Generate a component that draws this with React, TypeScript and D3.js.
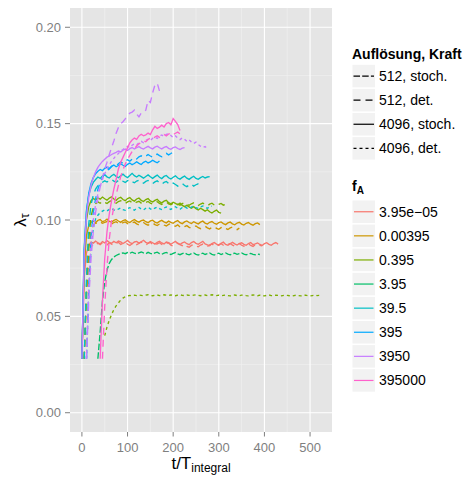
import React from "react";
import * as d3 from "d3";

// time step between consecutive samples (t / T_integral)
const STEP = 5;

const xTicks = [0, 100, 200, 300, 400, 500];
const xMinor = [50, 150, 250, 350, 450];
const yTicks = [0, 0.05, 0.1, 0.15, 0.2];
const yMinor = [0.025, 0.075, 0.125, 0.175];

const faLevels = ["3.95e\u221205", "0.00395", "0.395", "3.95", "39.5", "395", "3950", "395000"];
const faColors = ["#F8766D", "#CD9600", "#7CAE00", "#00BE67", "#00BFC4", "#00A9FF", "#C77CFF", "#FF61CC"];
const typeLevels = ["512, stoch.", "512, det.", "4096, stoch.", "4096, det."];
const typeDash: (string | null)[] = ["6.5,2.2", "7,5", null, "3,3"];

// lambda_tau values in units of 1e-3, sampled every STEP starting at t0
const salmon4096Stoch = [
  28, 70, 83, 87, 88.5, 88, 89, 88.2, 87.6, 88.8,
  88.1, 89.3, 88.4, 87.9, 88.9, 88.2, 89.1, 88.6, 87.8, 88.5,
  89.4, 88.3, 87.7, 88.6, 88.9, 88.0, 88.7, 89.5, 88.4, 87.9,
  88.8, 88.2, 87.5, 88.4, 89.0, 88.1, 87.6, 88.6, 88.3, 87.4,
  88.2, 88.9, 87.8, 87.3, 88.1, 88.6, 87.7, 87.2, 88.3, 88.8,
  87.9, 87.4, 88.2, 88.9, 87.6, 87.1, 86.6, 87.8, 88.3, 87.5,
  86.8, 87.9, 88.5, 87.3, 86.9, 87.7, 88.4, 87.6, 87.0, 87.8,
  88.2, 87.4, 86.9, 87.8, 88.3, 87.2, 87.6, 88.1, 87.3, 86.8,
  87.7, 88.2, 87.4, 86.9, 87.8, 88.3, 87.5,
];
const salmon512Det = [
  28, 62, 80, 86, 87.5, 87, 88, 87.2, 88.3, 87.6,
  87.1, 88.2, 87.5, 86.9, 87.8, 88.4, 87.3, 87.9, 88.5, 87.4,
  86.8, 87.7, 88.3, 87.2, 87.8, 88.6, 87.5, 87.0, 87.9, 88.4,
  87.3, 86.8, 87.6, 88.2, 87.4, 86.9, 87.8, 88.1, 87.0, 86.5,
  87.4, 88.0, 87.2, 86.7, 87.5, 86.3, 85.9, 86.8, 87.4, 86.6,
  86.1, 87.0, 87.5, 86.7, 86.2, 87.1, 87.6, 86.8, 86.3, 87.2,
  87.7, 86.9, 86.4, 87.3, 87.8, 87.0, 86.5, 87.3, 87.8, 86.9,
  86.4, 87.2, 87.6, 86.8, 86.3, 87.1, 87.5, 86.9, 86.6,
];
const orange4096Stoch = [
  28, 76, 92, 97, 98.8, 99.5, 98.7, 99.8, 100.2, 99.1,
  99.6, 100.4, 99.3, 98.9, 99.8, 100.3, 99.5, 98.8, 99.7, 100.1,
  99.2, 98.7, 99.6, 100.2, 99.4, 98.9, 99.7, 100.0, 99.1, 98.6,
  99.5, 99.9, 98.9, 98.4, 99.3, 99.8, 99.0, 98.5, 99.4, 98.8,
  98.3, 99.2, 99.7, 98.6, 98.1, 99.0, 99.5, 98.7, 98.2, 99.1,
  98.5, 98.0, 98.9, 99.4, 98.4, 97.9, 98.8, 99.2, 98.3, 97.8,
  98.6, 99.0, 98.1, 97.6, 98.5, 98.9, 98.0, 97.5, 98.4, 98.8,
  97.9, 97.4, 98.3, 98.7, 97.8, 97.3, 98.1, 98.5, 97.6,
];
const orange512Det = [
  28, 60, 85, 94, 97.5, 98.5, 98.0, 99.0, 98.3, 98.8,
  99.2, 98.4, 97.9, 98.7, 99.1, 98.2, 97.8, 98.6, 99.0, 98.1,
  97.7, 98.5, 98.9, 98.0, 97.5, 98.3, 98.7, 97.8, 97.3, 98.1,
  98.5, 97.6, 97.1, 97.9, 98.3, 97.4, 96.9, 97.7, 98.1, 97.2,
  96.7, 97.5, 96.4, 95.9, 96.6, 97.1, 96.2, 95.7, 96.4, 96.9,
  96.0, 95.5, 96.3, 96.8, 95.9, 95.4, 96.2, 96.6, 95.7, 95.2,
  96.0, 96.5, 95.6, 95.1, 95.9, 96.3, 95.5, 95.0, 95.8,
];
const olive4096Stoch = [
  28, 80, 100, 107, 110, 111.2, 110.4, 111.5, 110.8, 111.9,
  111.0, 110.3, 111.4, 112.0, 110.9, 110.2, 111.3, 111.8, 110.6, 110.0,
  111.1, 111.6, 110.4, 109.8, 110.9, 111.4, 110.2, 109.6, 110.6, 111.1,
  109.9, 109.3, 110.2, 110.7, 109.5, 108.9, 109.8, 110.2, 109.0, 108.4,
  109.2, 108.6, 107.9, 108.7, 107.6, 106.9, 107.6, 106.8, 106.1, 106.9,
  105.9, 105.2, 106.1, 105.4, 104.6, 105.3, 104.3, 103.6, 104.5, 105.2,
  104.0, 103.6,
];
const olive512Det = [
  28, 65, 90, 102, 106.5, 108.5, 109.4, 108.7, 109.8, 109.1,
  108.6, 109.5, 110.1, 109.2, 108.7, 109.6, 110.0, 109.0, 108.5, 109.4,
  109.9, 108.9, 108.4, 109.3, 109.7, 108.8, 108.3, 109.1, 109.6, 108.7,
  108.2, 109.0, 109.5, 108.6, 108.1, 108.9, 109.3, 108.4, 107.9, 108.7,
  109.1, 108.2, 107.7, 108.5, 109.0, 108.1, 107.6, 108.4, 108.9, 108.0,
  107.5, 108.3, 108.8, 107.9, 107.4, 108.2, 108.7, 107.8, 107.3, 108.1,
  108.6, 107.7, 108.2,
];
const olive4096Det = [
  40.0, 44.5, 48.0, 51.0, 53.5, 55.5, 57.0, 58.5, 59.5, 60.2,
  60.6, 60.9, 60.7, 61.0, 60.8, 61.1, 60.9, 60.7, 61.0, 61.2,
  60.9, 60.7, 61.0, 61.1, 60.8, 60.9, 61.2, 61.0, 60.8, 61.1,
  60.9, 60.7, 61.0, 61.2, 60.9, 60.8, 61.1, 60.9, 60.7, 61.0,
  61.2, 60.9, 60.7, 61.0, 61.1, 60.8, 60.9, 61.2, 61.0, 60.8,
  61.0, 60.7, 60.9, 61.1, 60.8, 60.6, 60.9, 61.1, 60.8, 60.7,
  61.0, 61.1, 60.8, 60.6, 60.9, 61.1, 60.9, 60.7, 61.0, 60.8,
  60.6, 60.9, 61.1, 60.8, 60.7, 61.0, 60.9, 60.6, 60.8, 61.0,
  60.9, 60.7, 60.5, 60.8, 61.0, 60.8, 60.6, 60.9, 61.0, 60.7,
  60.6, 60.8, 61.0, 60.8, 60.9,
];
const green512Stoch = [
  28, 42, 58, 68, 74, 77.5, 79.5, 80.8, 81.6, 82.2,
  82.6, 82.9, 82.5, 83.1, 82.7, 83.3, 82.8, 82.4, 83.0, 83.4,
  82.9, 82.5, 83.2, 82.7, 82.3, 82.9, 83.3, 82.6, 82.2, 82.8,
  83.2, 82.5, 82.1, 82.7, 83.1, 82.4, 82.0, 82.6, 83.0, 82.3,
  81.9, 82.5, 82.9, 82.2, 81.8, 82.4, 82.8, 82.1, 82.5, 82.9,
  82.2, 81.8, 82.4, 82.8, 82.1, 82.6, 82.9, 82.3, 81.9, 82.5,
  82.8, 82.2, 82.6, 82.9, 82.3, 81.9, 82.4, 82.7, 82.2, 82.0,
  82.3, 82.1,
];
const teal4096Stoch = [
  28, 85, 105, 113, 117, 119.5, 121, 122.3, 121.6, 122.8,
  123.5, 122.4, 121.8, 123.0, 123.7, 122.6, 121.9, 122.9, 123.8, 122.7,
  122.0, 123.1, 124.2, 123.0, 122.3, 123.2, 122.5, 121.7, 122.6, 123.4,
  122.4, 121.6, 122.5, 123.3, 122.2, 121.5, 122.6, 123.1, 121.9, 121.3,
  122.2, 122.9, 121.8, 121.2, 122.1, 122.8, 121.7, 121.1, 122.0, 122.7,
  121.6, 121.1, 122.0, 122.6, 121.8, 122.3, 122.5,
];
const teal512Det = [
  28, 70, 98, 108, 113, 116, 117.8, 118.9, 119.6, 120.3,
  119.7, 120.6, 121.1, 120.2, 119.6, 120.5, 121.0, 120.1, 119.5, 120.4,
  120.9, 119.9, 119.3, 120.2, 120.7, 119.7, 119.1, 120.0, 120.5, 119.5,
  118.9, 119.8, 120.3, 119.2, 118.6, 119.5, 120.0, 118.9, 118.3, 119.2,
  118.4, 117.6, 118.5, 119.0, 117.9, 117.3, 118.2, 118.7, 117.6, 118.3,
  118.8, 118.5,
];
const teal4096Det = [
  28, 62, 86, 96, 100.5, 102.5, 103.8, 104.6, 105.2, 104.7,
  105.5, 106.0, 105.3, 104.9, 105.7, 106.2, 105.4, 105.0, 105.9, 106.4,
  105.6, 105.1, 106.0, 106.5, 105.7, 105.2, 106.1, 106.6, 105.8, 105.3,
  106.2, 106.7, 105.9, 105.4, 106.3, 106.8, 106.0, 105.5, 106.4, 106.9,
  106.1, 105.6, 106.5, 107.0, 106.2, 105.8, 106.7, 107.2, 106.4, 106.0,
  106.8, 107.3, 106.5, 106.1, 106.9, 107.2,
];
const blue4096Stoch = [
  28, 84, 104, 114, 119, 122, 124, 125.3, 126.2, 125.6,
  126.8, 127.5, 126.7, 127.9, 128.5, 127.6, 128.3, 129.2, 128.4, 127.8,
  128.9, 129.6, 128.7, 129.3, 130.2, 129.4, 128.8, 129.9, 130.5, 129.6,
  130.2, 131.0, 130.3, 129.7, 130.6,
];
const blue512Det = [
  28, 66, 92, 104, 111, 116, 119.5, 122, 124, 125.6,
  126.5, 127.8, 128.6, 128.0, 129.2, 130.1, 129.4, 130.6, 131.3, 130.5,
  131.6, 132.4, 131.7, 132.8, 133.3, 132.5, 133.1, 134.0, 133.2, 132.6,
  133.5, 134.2, 133.4, 132.8, 133.9, 134.6, 133.8, 134.5, 135.4, 135.6,
];
const purple512Det = [
  28, 58, 80, 94, 104, 111, 117, 122, 126.5, 130,
  134, 137.5, 141, 145, 148, 150, 151, 152.5, 154, 155.5,
  156, 157, 155, 153.5, 155.5, 156, 157, 162, 161, 166,
  170, 171, 167,
];
const purple4096Stoch = [
  28, 82, 102, 112, 118, 122, 125, 127.3, 129, 130.4,
  131.5, 132.6, 133.2, 134.0, 134.6, 135.1, 135.8, 135.3, 136.2, 136.8,
  136.1, 137.0, 137.6, 136.8, 137.5, 138.1, 137.3, 136.8, 137.6, 138.2,
  137.4, 136.9, 137.8, 138.3, 137.5, 136.9, 137.7, 138.1, 137.2, 136.7,
  137.5, 137.9, 137.1, 136.6, 137.3, 137.6,
];
const purple4096Det = [
  28, 64, 88, 100, 108, 113.5, 117.5, 121, 124, 126.5,
  128.5, 130.5, 132, 133.5, 134.5, 135.8, 136.6, 137.5, 138.2, 137.6,
  138.8, 139.5, 138.9, 140.2, 140.8, 140.1, 141.3, 141.9, 141.2, 142.4,
  143.0, 142.3, 143.5, 144.1, 143.3, 144.4, 144.9, 143.9, 142.8, 143.6,
  142.5, 141.7, 142.6, 141.9, 140.8, 141.6, 140.5, 139.7, 140.4, 139.2,
  138.3, 137.6, 138.1, 137.0,
];
const pink4096Stoch = [
  28, 58, 80, 94, 103, 110, 116, 121, 126.5, 130,
  132.5, 135, 137.5, 140, 141.5, 142.5, 141.8, 143.6, 144.5, 143.7,
  144.2, 145.1, 144.3, 146.8, 148.6, 147.5, 148.2, 149.2, 148.3, 150.0,
  150.6, 149.4, 152.6, 151.2, 149.5, 146.5,
];
const pink512Det = [
  28, 55, 76, 90, 100, 107, 113, 118, 122.5, 126,
  129, 131.5, 133.5, 135.5, 137, 138.4, 139.5, 140.3, 141.2, 140.6,
  141.8, 142.5, 141.9, 143.1, 143.7, 142.9, 143.8, 144.4, 143.6, 144.6,
  145.2, 144.3, 145.0, 145.6, 144.7, 144.2,
];

type Series = { fa: number; type: number; t0: number; values: number[] };
const seriesList: Series[] = [
  { fa: 0, type: 1, t0: 5, values: salmon512Det },
  { fa: 0, type: 2, t0: 0, values: salmon4096Stoch },
  { fa: 1, type: 1, t0: 5, values: orange512Det },
  { fa: 1, type: 2, t0: 0, values: orange4096Stoch },
  { fa: 2, type: 1, t0: 5, values: olive512Det },
  { fa: 2, type: 2, t0: 0, values: olive4096Stoch },
  { fa: 2, type: 3, t0: 50, values: olive4096Det },
  { fa: 3, type: 0, t0: 35, values: green512Stoch },
  { fa: 4, type: 1, t0: 5, values: teal512Det },
  { fa: 4, type: 2, t0: 0, values: teal4096Stoch },
  { fa: 4, type: 3, t0: 10, values: teal4096Det },
  { fa: 5, type: 1, t0: 10, values: blue512Det },
  { fa: 5, type: 2, t0: 0, values: blue4096Stoch },
  { fa: 6, type: 1, t0: 10, values: purple512Det },
  { fa: 6, type: 2, t0: 0, values: purple4096Stoch },
  { fa: 6, type: 3, t0: 10, values: purple4096Det },
  { fa: 7, type: 1, t0: 45, values: pink512Det },
  { fa: 7, type: 2, t0: 40, values: pink4096Stoch },
];

const W = 464;
const H = 481;
const P = { left: 70, right: 332, top: 8, bottom: 432 };
const FONT = "'Liberation Sans', Arial, Helvetica, sans-serif";
const GREY50 = "#7F7F7F";

export default function App() {
  const x = d3.scaleLinear().domain([-26.1, 548.1]).range([P.left, P.right]);
  const y = d3.scaleLinear().domain([-0.01, 0.21]).range([P.bottom, P.top]);
  const fmt = d3.format(".2f");

  const legend1Top = 64;
  const legend2Top = 200.5;
  const rowH = 24.1;

  return (
    <svg
      width={W}
      height={H}
      viewBox={`0 0 ${W} ${H}`}
      style={{ position: "absolute", left: 0, top: 0, background: "#fff", fontFamily: FONT }}
    >
      <defs>
        <clipPath id="panel">
          <rect x={P.left} y={P.top} width={P.right - P.left} height={P.bottom - P.top} />
        </clipPath>
      </defs>
      <rect x={P.left} y={P.top} width={P.right - P.left} height={P.bottom - P.top} fill="#E5E5E5" />
      {xMinor.map((v) => (
        <line key={"xm" + v} x1={x(v)} x2={x(v)} y1={P.top} y2={P.bottom} stroke="#F2F2F2" strokeWidth={0.6} />
      ))}
      {yMinor.map((v) => (
        <line key={"ym" + v} x1={P.left} x2={P.right} y1={y(v)} y2={y(v)} stroke="#F2F2F2" strokeWidth={0.6} />
      ))}
      {xTicks.map((v) => (
        <line key={"xg" + v} x1={x(v)} x2={x(v)} y1={P.top} y2={P.bottom} stroke="#fff" strokeWidth={1.1} />
      ))}
      {yTicks.map((v) => (
        <line key={"yg" + v} x1={P.left} x2={P.right} y1={y(v)} y2={y(v)} stroke="#fff" strokeWidth={1.1} />
      ))}
      <g clipPath="url(#panel)">
        {seriesList.map((s, i) => {
          const line = d3
            .line<number>()
            .x((_, j) => x(s.t0 + j * STEP))
            .y((d) => y(d / 1000));
          const dash = typeDash[s.type];
          return (
            <path
              key={i}
              d={line(s.values) || ""}
              fill="none"
              stroke={faColors[s.fa]}
              strokeWidth={1.35}
              strokeDasharray={dash || undefined}
            />
          );
        })}
      </g>
      {/* axes */}
      {xTicks.map((v) => (
        <g key={"xt" + v}>
          <line x1={x(v)} x2={x(v)} y1={P.bottom} y2={P.bottom + 4.5} stroke={GREY50} strokeWidth={1} />
          <text x={x(v)} y={452} textAnchor="middle" fontSize={13} fill={GREY50}>
            {v}
          </text>
        </g>
      ))}
      {yTicks.map((v) => (
        <g key={"yt" + v}>
          <line x1={P.left - 5} x2={P.left} y1={y(v)} y2={y(v)} stroke={GREY50} strokeWidth={1} />
          <text x={61} y={y(v)} dy="0.36em" textAnchor="end" fontSize={13} fill={GREY50}>
            {fmt(v)}
          </text>
        </g>
      ))}
      <text x={(P.left + P.right) / 2} y={469} textAnchor="middle" fontSize={17} fill="#000">
        <tspan>t</tspan>
        <tspan>/</tspan>
        <tspan>T</tspan>
        <tspan fontSize={12} dy={3}>
          integral
        </tspan>
      </text>
      <text transform="translate(26,220) rotate(-90)" textAnchor="middle" fontSize={17} fill="#000">
        <tspan>λ</tspan>
        <tspan fontSize={12} dy={3}>
          τ
        </tspan>
      </text>
      {/* legend 1: linetype */}
      <text x={352} y={59} fontSize={14} fontWeight="bold" fill="#000">
        Auflösung, Kraft
      </text>
      {typeLevels.map((lab, i) => {
        const top = legend1Top + i * rowH;
        const cy = top + rowH / 2;
        const dash = typeDash[i];
        return (
          <g key={"lt" + i}>
            <rect x={352.5} y={top + 0.8} width={22.5} height={22.5} fill="#F2F2F2" />
            <line
              x1={353.5}
              x2={374}
              y1={cy}
              y2={cy}
              stroke="#000"
              strokeWidth={1.2}
              strokeDasharray={dash || undefined}
            />
            <text x={379} y={cy} dy="0.36em" fontSize={14} fill="#000">
              {lab}
            </text>
          </g>
        );
      })}
      {/* legend 2: colour */}
      <text x={352} y={191} fontSize={14} fontWeight="bold" fill="#000">
        <tspan>f</tspan>
        <tspan fontSize={10} dy={3}>
          A
        </tspan>
      </text>
      {faLevels.map((lab, i) => {
        const top = legend2Top + i * rowH;
        const cy = top + rowH / 2;
        return (
          <g key={"lc" + i}>
            <rect x={352.5} y={top} width={22.5} height={22.5} fill="#F2F2F2" />
            <line x1={354} x2={373.5} y1={cy - 0.8} y2={cy - 0.8} stroke={faColors[i]} strokeWidth={1.2} />
            <text x={379} y={cy - 0.8} dy="0.36em" fontSize={14} fill="#000">
              {lab}
            </text>
          </g>
        );
      })}
    </svg>
  );
}
